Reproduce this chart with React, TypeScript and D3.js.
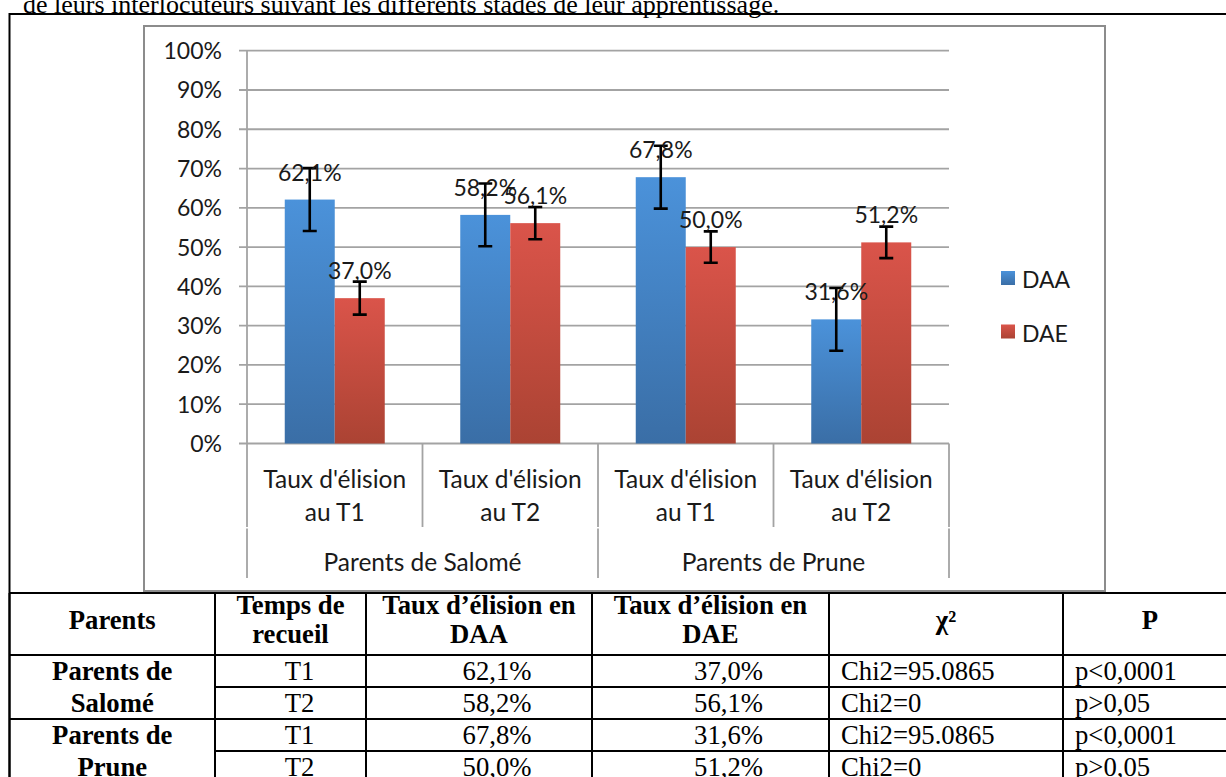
import { useEffect, useRef } from 'react';
import * as d3 from 'd3';

// данные графика
const categories = [
  ["Taux d'élision", 'au T1'],
  ["Taux d'élision", 'au T2'],
  ["Taux d'élision", 'au T1'],
  ["Taux d'élision", 'au T2'],
];
const groups = ['Parents de Salomé', 'Parents de Prune'];
const series = ['DAA', 'DAE'];
const daaValues = [62.1, 58.2, 67.8, 31.6];
const daeValues = [37.0, 56.1, 50.0, 51.2];
const daaErrors = [8, 8, 8, 8];
const daeErrors = [4.2, 4.1, 4.0, 4.0];
const yTicks = [0, 10, 20, 30, 40, 50, 60, 70, 80, 90, 100];

// данные таблицы
const caption = 'de leurs interlocuteurs suivant les différents stades de leur apprentissage.';
const headerCells = [
  ['Parents'],
  ['Temps de', 'recueil'],
  ['Taux d’élision en', 'DAA'],
  ['Taux d’élision en', 'DAE'],
  ['χ²'],
  ['P'],
];
const parentLabels = [
  ['Parents de', 'Salomé'],
  ['Parents de', 'Prune'],
];
const timeLabels = ['T1', 'T2', 'T1', 'T2'];
const tableDaa = ['62,1%', '58,2%', '67,8%', '50,0%'];
const tableDae = ['37,0%', '56,1%', '31,6%', '51,2%'];
const chiValues = ['Chi2=95.0865', 'Chi2=0', 'Chi2=95.0865', 'Chi2=0'];
const pValues = ['p<0,0001', 'p>0,05', 'p<0,0001', 'p>0,05'];

const App = () => {
  const svgRef = useRef(null);

  useEffect(() => {
    const svg = d3.select(svgRef.current);
    svg.selectAll('*').remove();

    const sans = 'Lato, "Open Sans", sans-serif';
    const serif = '"Liberation Serif", "Times New Roman", serif';
    const ink = '#1a1a1a';
    const gridColor = '#a3a3a3';

    // градиенты столбцов
    const defs = svg.append('defs');
    const grads = [
      { id: 'gDAA', top: '#4b92da', bottom: '#3a6ea6' },
      { id: 'gDAE', top: '#da544a', bottom: '#ab4333' },
    ];
    grads.forEach((g) => {
      const lg = defs
        .append('linearGradient')
        .attr('id', g.id)
        .attr('x1', 0)
        .attr('y1', 0)
        .attr('x2', 0)
        .attr('y2', 1);
      lg.append('stop').attr('offset', '0%').attr('stop-color', g.top);
      lg.append('stop').attr('offset', '100%').attr('stop-color', g.bottom);
    });

    // подпись сверху (обрезана)
    svg
      .append('text')
      .attr('x', 23)
      .attr('y', 12.5)
      .attr('font-family', serif)
      .attr('font-size', 26)
      .attr('fill', '#000')
      .text(caption);

    // внешняя рамка ячейки
    svg
      .append('path')
      .attr('d', 'M9.5,790 V14 H1240')
      .attr('fill', 'none')
      .attr('stroke', '#000')
      .attr('stroke-width', 2);

    // рамка диаграммы
    svg
      .append('rect')
      .attr('x', 144)
      .attr('y', 26)
      .attr('width', 961)
      .attr('height', 565)
      .attr('fill', '#fff')
      .attr('stroke', '#8c8c8c')
      .attr('stroke-width', 2);

    const plot = { left: 247, right: 949, top: 50.7, bottom: 443.5 };

    const x0 = d3
      .scaleBand<number>()
      .domain(d3.range(categories.length))
      .range([plot.left, plot.right])
      .paddingInner(0)
      .paddingOuter(0);

    const x1 = d3
      .scaleBand<string>()
      .domain(series)
      .range([0, x0.bandwidth()])
      .paddingInner(0)
      .paddingOuter(0.755);

    const y = d3.scaleLinear().domain([0, 100]).range([plot.bottom, plot.top]);

    // сетка
    const grid = svg.append('g');
    grid
      .selectAll('line')
      .data(yTicks)
      .enter()
      .append('line')
      .attr('x1', plot.left - 8)
      .attr('x2', plot.right)
      .attr('y1', (d) => y(d))
      .attr('y2', (d) => y(d))
      .attr('stroke', gridColor)
      .attr('stroke-width', 1.8);

    grid
      .selectAll('text')
      .data(yTicks)
      .enter()
      .append('text')
      .attr('x', 222)
      .attr('y', (d) => y(d) + 8.5)
      .attr('text-anchor', 'end')
      .attr('font-family', sans)
      .attr('font-size', 23)
      .attr('fill', ink)
      .text((d) => `${d}%`);

    // ось Y
    svg
      .append('line')
      .attr('x1', plot.left)
      .attr('x2', plot.left)
      .attr('y1', plot.top)
      .attr('y2', plot.bottom)
      .attr('stroke', gridColor)
      .attr('stroke-width', 1.8);

    // разделители категорий
    const tier1Bottom = 527;
    const tier2Top = 528.5;
    const tier2Bottom = 578;
    const bounds = d3.range(categories.length + 1).map((i) =>
      i < categories.length ? x0(i)! : plot.right
    );
    svg
      .append('g')
      .selectAll('line')
      .data(bounds)
      .enter()
      .append('line')
      .attr('x1', (d) => d)
      .attr('x2', (d) => d)
      .attr('y1', plot.bottom)
      .attr('y2', tier1Bottom)
      .attr('stroke', gridColor)
      .attr('stroke-width', 1.8);
    svg
      .append('g')
      .selectAll('line')
      .data(bounds.filter((_, i) => i % 2 === 0))
      .enter()
      .append('line')
      .attr('x1', (d) => d)
      .attr('x2', (d) => d)
      .attr('y1', tier2Top)
      .attr('y2', tier2Bottom)
      .attr('stroke', gridColor)
      .attr('stroke-width', 1.8);

    // подписи категорий
    const catG = svg.append('g');
    categories.forEach((lines, i) => {
      const cx = x0(i)! + x0.bandwidth() / 2;
      lines.forEach((ln, j) => {
        catG
          .append('text')
          .attr('x', cx)
          .attr('y', 488 + j * 33)
          .attr('text-anchor', 'middle')
          .attr('font-family', sans)
          .attr('font-size', 24.5)
          .attr('fill', ink)
          .text(ln);
      });
    });
    groups.forEach((g, i) => {
      const cx = (x0(i * 2)! + x0(i * 2 + 1)! + x0.bandwidth()) / 2;
      catG
        .append('text')
        .attr('x', cx)
        .attr('y', 571)
        .attr('text-anchor', 'middle')
        .attr('font-family', sans)
        .attr('font-size', 24.5)
        .attr('fill', ink)
        .text(g);
    });

    // столбцы
    const bars = categories
      .map((_, i) => [
        { s: 'DAA', v: daaValues[i], e: daaErrors[i], i },
        { s: 'DAE', v: daeValues[i], e: daeErrors[i], i },
      ])
      .flat();

    const fmt = d3.format('.1f');
    const barG = svg.append('g');
    barG
      .selectAll('rect')
      .data(bars)
      .enter()
      .append('rect')
      .attr('x', (d) => x0(d.i)! + x1(d.s)!)
      .attr('y', (d) => y(d.v))
      .attr('width', x1.bandwidth())
      .attr('height', (d) => y(0) - y(d.v))
      .attr('fill', (d) => `url(#g${d.s})`);

    // планки погрешностей
    const cap = 7;
    bars.forEach((d) => {
      const cx = x0(d.i)! + x1(d.s)! + x1.bandwidth() / 2;
      const yTop = y(d.v + d.e);
      const yBot = y(d.v - d.e);
      barG
        .append('path')
        .attr(
          'd',
          `M${cx},${yTop} V${yBot} M${cx - cap},${yTop} H${cx + cap} M${cx - cap},${yBot} H${cx + cap}`
        )
        .attr('fill', 'none')
        .attr('stroke', '#000')
        .attr('stroke-width', 2.6);
    });

    // подписи значений
    barG
      .selectAll('text')
      .data(bars)
      .enter()
      .append('text')
      .attr('x', (d) => x0(d.i)! + x1(d.s)! + x1.bandwidth() / 2)
      .attr('y', (d) => y(d.v) - 19)
      .attr('text-anchor', 'middle')
      .attr('font-family', sans)
      .attr('font-size', 23)
      .attr('fill', ink)
      .text((d) => `${fmt(d.v).replace('.', ',')}%`);

    // легенда
    const legend = svg.append('g');
    series.forEach((s, i) => {
      const ly = 271 + i * 53.5;
      legend
        .append('rect')
        .attr('x', 1001)
        .attr('y', ly)
        .attr('width', 14)
        .attr('height', 14)
        .attr('fill', `url(#g${s})`);
      legend
        .append('text')
        .attr('x', 1022)
        .attr('y', ly + 17)
        .attr('font-family', sans)
        .attr('font-size', 23)
        .attr('fill', ink)
        .text(s);
    });

    // таблица
    const cols = [9.5, 215, 366, 592, 829, 1063, 1237];
    const tTop = 593;
    const hBottom = 655;
    const rowH = 32;
    const rowTops = d3.range(4).map((r) => hBottom + r * rowH);
    const table = svg.append('g');
    const lineAttr = (sel: any) =>
      sel.attr('stroke', '#000').attr('stroke-width', 2).attr('fill', 'none');

    [tTop, hBottom, hBottom + 2 * rowH].forEach((yy) =>
      lineAttr(table.append('line').attr('x1', cols[0]).attr('x2', 1240).attr('y1', yy).attr('y2', yy))
    );
    [hBottom + rowH, hBottom + 3 * rowH].forEach((yy) =>
      lineAttr(table.append('line').attr('x1', cols[1]).attr('x2', 1240).attr('y1', yy).attr('y2', yy))
    );
    cols.forEach((xx) =>
      lineAttr(table.append('line').attr('x1', xx).attr('x2', xx).attr('y1', tTop).attr('y2', 790))
    );

    const tfs = 26.7;
    headerCells.forEach((lines, c) => {
      const cx = (cols[c] + cols[c + 1]) / 2;
      const base = lines.length === 2 ? 614 : 629;
      lines.forEach((ln, j) => {
        table
          .append('text')
          .attr('x', cx)
          .attr('y', base + j * 29)
          .attr('text-anchor', 'middle')
          .attr('font-family', serif)
          .attr('font-weight', 'bold')
          .attr('font-size', tfs)
          .attr('fill', '#000')
          .text(ln);
      });
    });

    parentLabels.forEach((lines, p) => {
      lines.forEach((ln, j) => {
        table
          .append('text')
          .attr('x', (cols[0] + cols[1]) / 2)
          .attr('y', rowTops[p * 2 + j] + 25)
          .attr('text-anchor', 'middle')
          .attr('font-family', serif)
          .attr('font-weight', 'bold')
          .attr('font-size', tfs)
          .attr('fill', '#000')
          .text(ln);
      });
    });

    const centered = [
      { col: 1, vals: timeLabels, dx: 9 },
      { col: 2, vals: tableDaa, dx: 18 },
      { col: 3, vals: tableDae, dx: 18 },
    ];
    centered.forEach(({ col, vals, dx }) => {
      vals.forEach((v, r) => {
        table
          .append('text')
          .attr('x', (cols[col] + cols[col + 1]) / 2 + dx)
          .attr('y', rowTops[r] + 25)
          .attr('text-anchor', 'middle')
          .attr('font-family', serif)
          .attr('font-size', tfs)
          .attr('fill', '#000')
          .text(v);
      });
    });
    const leftCols = [
      { col: 4, vals: chiValues },
      { col: 5, vals: pValues },
    ];
    leftCols.forEach(({ col, vals }) => {
      vals.forEach((v, r) => {
        table
          .append('text')
          .attr('x', cols[col] + 12)
          .attr('y', rowTops[r] + 25)
          .attr('font-family', serif)
          .attr('font-size', tfs)
          .attr('fill', '#000')
          .text(v);
      });
    });
  }, []);

  return (
    <svg
      ref={svgRef}
      width={1226}
      height={777}
      style={{ position: 'absolute', left: 0, top: 0, background: '#fff' }}
    ></svg>
  );
};

export default App;
